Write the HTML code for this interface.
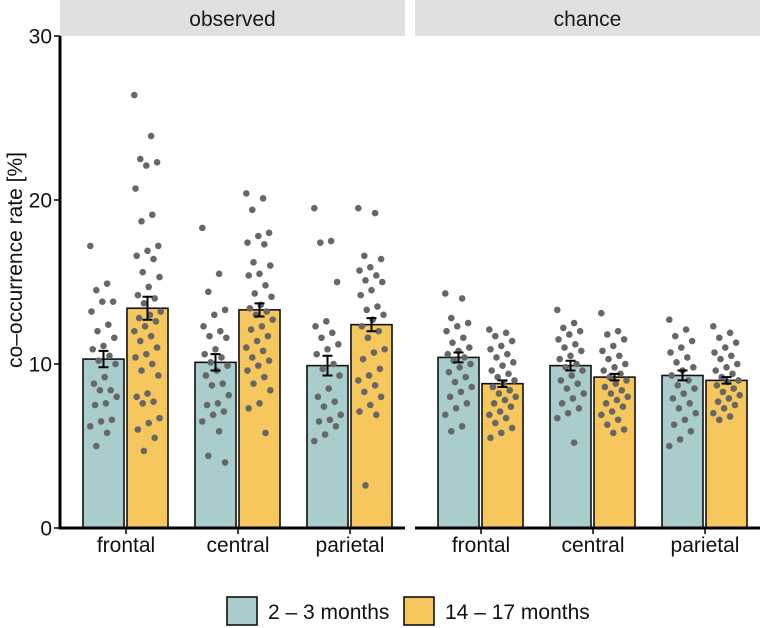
<!DOCTYPE html>
<html><head><meta charset="utf-8"><style>
body{margin:0;background:#fff;}
svg{display:block;font-family:"Liberation Sans",sans-serif;}
</style></head><body>
<svg id="chart" width="760" height="628" viewBox="0 0 760 628"></svg>
<script>
const panels = ["observed","chance"];
const regions = ["frontal","central","parietal"];
const groups = ["2 – 3 months","14 – 17 months"];
const meansObserved = [[10.3,13.4],[10.1,13.3],[9.9,12.4]];
const meansChance = [[10.4,8.8],[9.9,9.2],[9.3,9.0]];
const semObserved = [[0.5,0.7],[0.5,0.4],[0.6,0.4]];
const semChance = [[0.3,0.2],[0.3,0.2],[0.3,0.2]];
const yTicks = [0,10,20,30];
const ptsObserved = [
 [[17.2,14.9,14.5,13.8,13.8,13.2,12.4,12.0,11.6,11.1,10.9,10.5,10.2,10.0,9.2,8.8,8.4,8.4,8.0,7.6,7.5,6.6,6.5,6.2,5.8,5.0],
  [26.4,23.9,22.5,22.3,22.1,20.7,19.1,18.7,17.2,16.9,16.6,16.4,15.6,15.3,14.7,14.2,14.0,13.7,13.2,13.0,12.8,12.6,12.3,12.0,11.7,11.4,11.0,10.6,10.4,10.0,9.6,9.3,8.2,8.0,7.7,7.6,6.7,6.4,6.0,5.5,4.7]],
 [[18.3,15.5,14.4,13.3,13.0,12.3,12.0,11.7,11.6,10.9,10.6,10.4,10.1,9.9,9.6,9.3,8.8,8.7,8.1,7.6,7.5,7.1,6.9,6.5,5.9,4.4,4.0],
  [20.4,20.1,19.4,18.0,17.8,17.4,17.3,16.2,16.0,15.5,15.4,14.8,14.3,14.1,13.6,13.4,13.2,13.0,12.7,12.3,12.1,11.7,11.4,11.0,10.8,10.4,10.2,9.9,9.6,9.2,8.8,8.4,7.6,7.3,5.8]],
 [[19.5,17.5,17.4,15.0,12.6,12.3,11.9,11.6,11.2,10.9,10.6,10.0,9.7,9.3,8.5,8.0,7.7,7.4,6.9,6.6,6.5,6.2,5.7,5.3],
  [19.5,19.2,16.6,16.4,15.9,15.7,15.4,15.1,15.0,14.5,14.2,13.5,13.3,13.0,12.7,12.3,12.0,11.6,10.9,10.7,10.3,9.7,9.3,9.0,8.7,8.3,8.0,7.5,7.1,6.9,2.6]]
];
const ptsChance = [
 [[14.3,14.0,12.8,12.5,12.3,12.0,11.6,11.3,11.0,10.8,10.6,10.4,10.2,10.0,9.8,9.5,9.2,8.9,8.6,8.3,8.0,7.6,7.3,6.9,6.2,5.9],
  [12.1,11.9,11.7,11.4,11.1,10.9,10.6,10.4,10.1,9.9,9.6,9.4,9.2,9.0,8.8,8.6,8.4,8.2,8.0,7.8,7.6,7.4,7.1,6.9,6.7,6.4,6.1,5.8,5.5]],
 [[13.3,12.5,12.2,12.0,11.8,11.5,11.2,11.0,10.8,10.5,10.3,10.0,9.8,9.6,9.3,9.0,8.8,8.5,8.2,7.9,7.6,7.3,7.0,6.7,5.2],
  [13.1,12.0,11.8,11.5,11.1,10.8,10.5,10.3,10.0,9.8,9.6,9.4,9.2,9.0,8.8,8.6,8.4,8.2,8.0,7.8,7.6,7.4,7.1,6.9,6.6,6.3,6.0,5.8]],
 [[12.7,12.1,11.7,11.4,11.0,10.7,10.4,10.1,9.8,9.6,9.3,9.0,8.7,8.5,8.2,7.9,7.6,7.3,7.0,6.6,6.3,5.9,5.4,5.0],
  [12.3,11.9,11.6,11.3,11.0,10.7,10.5,10.3,10.0,9.8,9.6,9.4,9.2,9.0,8.9,8.7,8.5,8.3,8.1,7.9,7.7,7.5,7.3,7.0,6.8,6.6]]
];
const NS="http://www.w3.org/2000/svg";
const svg=document.getElementById('chart');
function mk(t,a,p){const e=document.createElementNS(NS,t);for(const k in a)e.setAttribute(k,a[k]);(p||svg).appendChild(e);return e;}
const y0=528,y30=36;
function y(v){return y0-(v/30)*(y0-y30);}
const panelX=[60,415], panelW=345;
function barX(pi,ri,gi){return panelX[pi]+23+ri*112+gi*44;}
const barW=41;
const FS=21;
const colors=["#a9cdcd","#f6c75c"];
panels.forEach((p,pi)=>{
  const g=mk('g',{});
  
  
  const s=mk('rect',{x:panelX[pi],y:0,width:panelW,height:36,fill:"#e0e0e0"},g);
  
  
  const t=mk('text',{x:panelX[pi]+panelW/2,y:26,'text-anchor':'middle','font-size':FS,fill:'#1a1a1a'},g);
  t.textContent=p;
  
  
  const means=pi?meansChance:meansObserved, sem=pi?semChance:semObserved, pts=pi?ptsChance:ptsObserved;
  regions.forEach((r,ri)=>{
    [0,1].forEach(gi=>{
      const x=barX(pi,ri,gi), m=means[ri][gi];
      const b=mk('rect',{x:x,y:y(m),width:barW,height:y0-y(m),fill:colors[gi],stroke:'#111','stroke-width':1.6},g);
      
      
      pts[ri][gi].forEach((v,k)=>{
        const jx=x+barW/2+(((k*37)%23)-11)*1.2;
        const c=mk('circle',{cx:jx,cy:y(v),r:3.3,fill:'#676767'},g);
        
        
      });
      const cx=x+barW/2, e=sem[ri][gi];
      const eb=mk('path',{d:`M${cx-5},${y(m+e)}H${cx+5}M${cx},${y(m+e)}V${y(m-e)}M${cx-5},${y(m-e)}H${cx+5}`,stroke:'#000','stroke-width':2,fill:'none'},g);
      
      
    });
    const tx=barX(pi,ri,1)-1;
    mk('line',{x1:tx,x2:tx,y1:y0,y2:y0+6,stroke:'#000','stroke-width':1.5},g);
    const lt=mk('text',{x:tx,y:552,'text-anchor':'middle','font-size':FS,fill:'#111'},g);
    lt.textContent=r;
    
    
  });
  const ax=mk('line',{x1:panelX[pi],x2:panelX[pi]+panelW,y1:y0,y2:y0,stroke:'#000','stroke-width':3},g);
  
  
});
const yl=mk('line',{x1:60,x2:60,y1:y30,y2:y0+1.5,stroke:'#000','stroke-width':3});


yTicks.forEach(v=>{
  mk('line',{x1:54,x2:60,y1:y(v),y2:y(v),stroke:'#000','stroke-width':1.5});
  const t=mk('text',{x:52,y:y(v)+7.5,'text-anchor':'end','font-size':FS,fill:'#111'});
  t.textContent=v;
  
  
});
const yt=mk('text',{x:0,y:0,transform:'translate(22,260) rotate(-90)','text-anchor':'middle','font-size':FS,fill:'#111'});
yt.textContent='co–occurrence rate [%]';


const legX=[227,404];
groups.forEach((gname,gi)=>{
  const r=mk('rect',{x:legX[gi],y:597,width:30,height:28,fill:colors[gi],stroke:'#111','stroke-width':1.6});
  
  
  const t=mk('text',{x:legX[gi]+41,y:619,'font-size':FS,fill:'#111'});
  t.textContent=gname;
  
  
});
</script>
</body></html>
